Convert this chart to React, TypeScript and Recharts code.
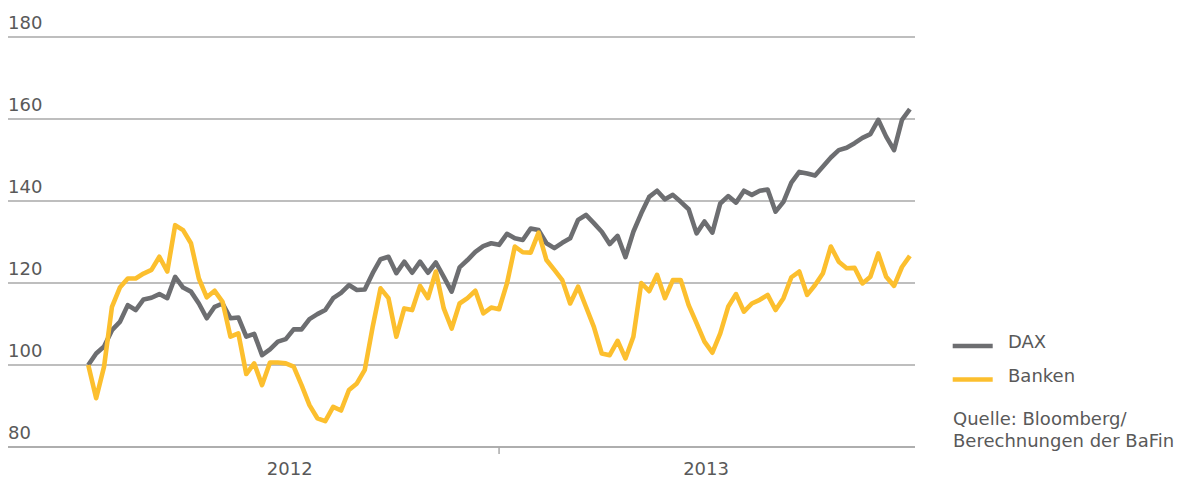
import React from 'react';
import { LineChart, Line, XAxis, YAxis, CartesianGrid, Legend } from 'recharts';

// Weekly index values (start of 2012 = 100)
const dax = [
  100, 102.8, 104.5, 108.5, 110.5, 114.6, 113.4, 116.0, 116.4, 117.3,
  116.3, 121.5, 118.9, 117.9, 115.0, 111.4, 114.2, 115.0, 111.4, 111.6,
  106.9, 107.6, 102.4, 103.8, 105.7, 106.3, 108.7, 108.7, 111.2, 112.4,
  113.4, 116.3, 117.6, 119.5, 118.3, 118.4, 122.4, 125.8, 126.4, 122.4,
  125.2, 122.5, 125.2, 122.5, 125.0, 121.5, 117.9, 123.8, 125.6, 127.6,
  129.0, 129.7, 129.3, 132.0, 130.9, 130.5, 133.3, 132.9, 129.7, 128.5,
  129.8, 130.9, 135.4, 136.6, 134.6, 132.5, 129.5, 131.5, 126.3, 132.5,
  137.0, 141.0, 142.5, 140.4, 141.5, 139.8, 138.0, 132.1, 135.0, 132.3,
  139.4, 141.2, 139.6, 142.5, 141.5, 142.5, 142.8, 137.4, 139.8, 144.5,
  147.1, 146.7, 146.2, 148.4, 150.6, 152.4, 153.0, 154.1, 155.4, 156.3,
  159.8, 155.7, 152.4, 159.8, 162.4,
];

const banken = [
  100, 91.9, 99.6, 114.2, 118.9, 121.1, 121.1, 122.3, 123.2, 126.4,
  122.8, 134.1, 132.9, 129.7, 121.1, 116.5, 118.1, 115.4, 106.9, 107.7,
  97.8, 100.4, 95.1, 100.6, 100.6, 100.4, 99.6, 95.1, 90.2, 87.0,
  86.3, 89.8, 88.9, 93.9, 95.5, 98.8, 109.3, 118.7, 116.3, 106.9,
  113.8, 113.4, 119.3, 116.3, 122.8, 113.8, 108.9, 115.0, 116.3, 118.1,
  112.6, 114.0, 113.6, 119.9, 128.9, 127.5, 127.4, 132.3, 125.6, 123.2,
  120.7, 115.0, 119.1, 114.2, 109.3, 102.8, 102.4, 105.9, 101.6, 106.9,
  120.0, 118.0, 122.0, 116.3, 120.7, 120.7, 114.6, 110.2, 105.7, 103.0,
  107.7, 114.2, 117.3, 113.0, 115.0, 115.9, 117.1, 113.4, 116.3, 121.4,
  122.8, 117.1, 119.5, 122.4, 128.9, 125.2, 123.6, 123.7, 119.9, 121.5,
  127.2, 121.5, 119.3, 123.9, 126.6,
];

const weeks = dax.map((_, i) => i);

const yTicks = [80, 100, 120, 140, 160, 180];
const yearLabels = ['2012', '2013'];
const yearLabelWeeks = [25.5, 78.2];
const yearBoundaryWeek = 52;

const seriesOrder = ['dax', 'banken'];
const seriesNames: Record<string, string> = { dax: 'DAX', banken: 'Banken' };
const sourceLines = ['Quelle: Bloomberg/', 'Berechnungen der BaFin'];

const data = weeks.map((w, i) => ({ week: w, dax: dax[i], banken: banken[i] }));

const FONT = '"DejaVu Sans", Verdana, sans-serif';
const TEXT = '#595959';
const GRID = '#a9a9a9';
const GRAY = '#6d6e71';
const YELLOW = '#fcbf2e';

const YTick = (props: any) => {
  const { y, payload } = props;
  return (
    <text x={8} y={y - 7.7} textAnchor="start" fontSize={18} fontFamily={FONT} fill={TEXT}>
      {payload.value}
    </text>
  );
};

const XTick = (props: any) => {
  const { x, y, payload } = props;
  if (payload.value === yearBoundaryWeek) {
    return <line x1={x} x2={x} y1={y} y2={y + 7} stroke={GRID} strokeWidth={1.5} />;
  }
  const idx = yearLabelWeeks.indexOf(payload.value);
  return (
    <text x={x} y={y + 28} textAnchor="middle" fontSize={18} fontFamily={FONT} fill={TEXT}>
      {yearLabels[idx]}
    </text>
  );
};

const LegendContent = (props: any) => {
  const raw = props.payload || [];
  const items = seriesOrder
    .map((k) => raw.find((p: any) => p.dataKey === k))
    .filter(Boolean);
  const rowY = [16, 49.5];
  const textY = [348 - 330, 382 - 330];
  return (
    <svg width={232} height={130} style={{ display: 'block', overflow: 'visible' }}>
      {items.map((it: any, i: number) => (
        <g key={it.value}>
          <line x1={0.7} x2={40.7} y1={rowY[i]} y2={rowY[i]} stroke={it.color} strokeWidth={4.5} />
          <text x={56} y={textY[i]} fontSize={18} fontFamily={FONT} fill={TEXT}>{it.value}</text>
        </g>
      ))}
      {sourceLines.map((s, i) => (
        <text key={s} x={1} y={95 + i * 21.6} fontSize={18} fontFamily={FONT} fill={TEXT}>{s}</text>
      ))}
    </svg>
  );
};

export default function App() {
  return (
    <div style={{ position: 'absolute', left: 0, top: 0, width: 1184, height: 479, background: '#fff' }}>
      <LineChart width={1184} height={479} data={data} margin={{ top: 37, right: 269, bottom: 0, left: 7 }}>
        <CartesianGrid vertical={false} stroke={GRID} strokeWidth={1.5} />
        <XAxis
          dataKey="week"
          type="number"
          domain={[-10.16, 104.65]}
          ticks={[yearLabelWeeks[0], yearBoundaryWeek, yearLabelWeeks[1]]}
          height={32}
          axisLine={{ stroke: GRID, strokeWidth: 1.5 }}
          tickLine={false}
          tickSize={0}
          tickMargin={0}
          tick={<XTick />}
          interval={0}
          allowDataOverflow
        />
        <YAxis
          domain={[80, 180]}
          ticks={yTicks}
          width={1}
          axisLine={false}
          tickLine={false}
          tick={<YTick />}
          interval={0}
        />
        <Legend
          layout="vertical"
          align="center"
          verticalAlign="middle"
          content={<LegendContent />}
          wrapperStyle={{ position: 'absolute', left: 952, top: 330, width: 232, height: 130 }}
        />
        <Line
          dataKey="dax"
          name={seriesNames.dax}
          stroke={GRAY}
          strokeWidth={4.6}
          dot={false}
          activeDot={false}
          isAnimationActive={false}
          strokeLinejoin="round"
        />
        <Line
          dataKey="banken"
          name={seriesNames.banken}
          stroke={YELLOW}
          strokeWidth={4.6}
          dot={false}
          activeDot={false}
          isAnimationActive={false}
          strokeLinejoin="round"
        />
      </LineChart>
    </div>
  );
}
